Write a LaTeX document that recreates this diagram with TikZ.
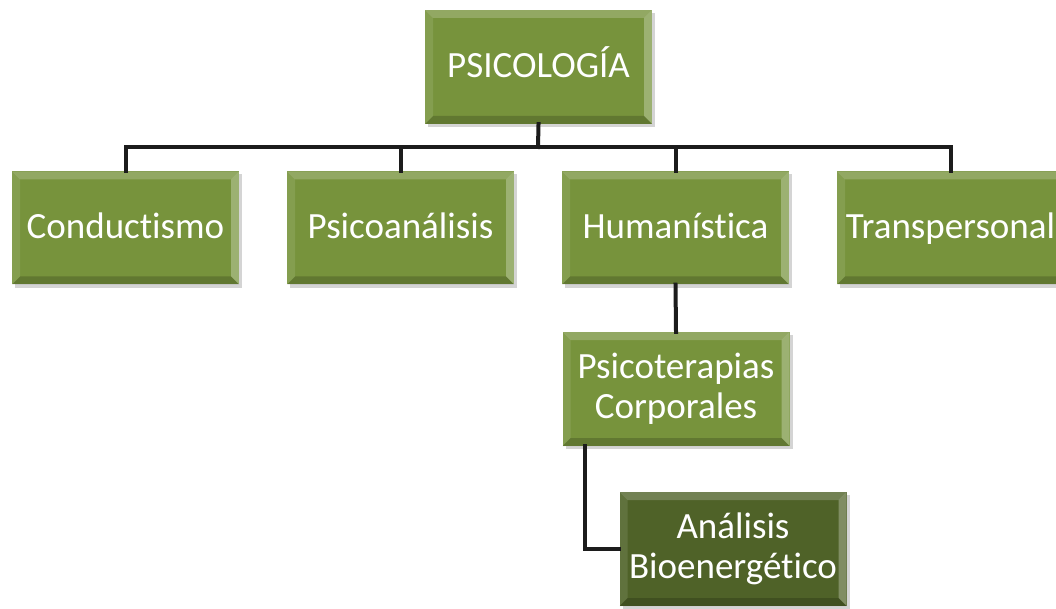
\documentclass[tikz,border=0pt]{standalone}
\usepackage{fontspec}
\setmainfont[Ligatures=NoCommon]{Carlito}
\usetikzlibrary{shadows}
\definecolor{boxgreen}{HTML}{77933C}
\definecolor{boxdark}{HTML}{4F6228}
\definecolor{conncol}{HTML}{1C1C1C}
\tikzset{
  bevel/.style={path picture={
    \coordinate (nw) at (path picture bounding box.north west);
    \coordinate (ne) at (path picture bounding box.north east);
    \coordinate (sw) at (path picture bounding box.south west);
    \coordinate (se) at (path picture bounding box.south east);
    \fill[white,opacity=0.20] (nw) -- (ne) -- ([xshift=-8pt,yshift=-8pt]ne) -- ([xshift=8pt,yshift=-8pt]nw) -- cycle;
    \fill[white,opacity=0.10] (nw) -- ([xshift=8pt,yshift=-8pt]nw) -- ([xshift=8pt,yshift=8pt]sw) -- (sw) -- cycle;
    \fill[white,opacity=0.28] (ne) -- (se) -- ([xshift=-8pt,yshift=8pt]se) -- ([xshift=-8pt,yshift=-8pt]ne) -- cycle;
    \fill[black,opacity=0.18] (sw) -- (se) -- ([xshift=-8pt,yshift=8pt]se) -- ([xshift=8pt,yshift=8pt]sw) -- cycle;
  }},
  gbox/.style={rectangle, fill=boxgreen, bevel, minimum width=227pt, minimum height=113pt,
    inner sep=0pt, align=center, text=white, font=\fontsize{37}{40}\selectfont,
    drop shadow={shadow xshift=3pt, shadow yshift=-3pt, opacity=0.3, fill=black!55}},
  onebox/.style={gbox, text height=25pt, text depth=3pt},
  dbox/.style={gbox, fill=boxdark},
  conn/.style={draw=conncol, line width=4pt, line cap=rect, line join=miter}
}
\begin{document}
\begin{tikzpicture}[x=1pt,y=-1pt]
\useasboundingbox (0,0) rectangle (1056,609);
\clip (0,0) rectangle (1056,609);
\fill[white] (0,0) rectangle (1056,609);
\coordinate (bus) at (538,147);
\node[onebox, minimum height=114pt] (psi) at (538.5,67) {PSICOLOGÍA};
\node[onebox] (con) at (125.5,228) {Conductismo};
\node[onebox] (psa) at (400.5,228) {Psicoanálisis};
\node[onebox] (hum) at (675.5,228) {Humanística};
\node[onebox, minimum width=227pt] (tra) at (950.5,228) {Transpersonal};
\node[gbox, minimum height=114pt] (pc) at (676,389) {Psicoterapias\\Corporales};
\node[dbox, minimum height=114pt] (ab) at (733,549) {Análisis\\Bioenergético};
\draw[conn] (psi.south) -- (bus);
\draw[conn] (con.north) -- (con.north |- bus) -- (tra.north |- bus) -- (tra.north);
\draw[conn] (psa.north) -- (psa.north |- bus);
\draw[conn] (hum.north) -- (hum.north |- bus);
\draw[conn] (hum.south) -- (pc.north);
\draw[conn] ([xshift=23pt]pc.south west) |- (ab.west);
\end{tikzpicture}
\end{document}
